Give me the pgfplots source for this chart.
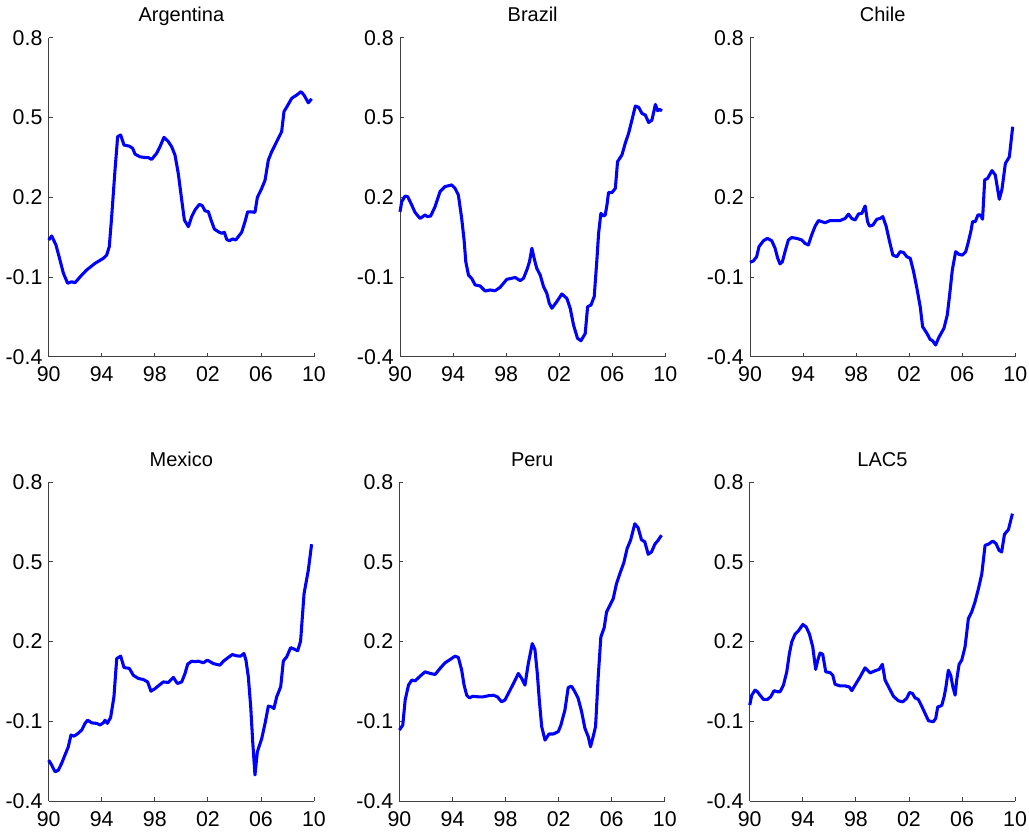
\documentclass[border=0pt]{standalone}
\usepackage{fontspec}
\setmainfont{Liberation Sans}
\usepackage{pgfplots}
\pgfplotsset{compat=1.18}
\definecolor{mblue}{RGB}{0,0,255}
\pgfplotsset{
  panel/.style={
    width=199pt, height=239.25pt, scale only axis,
    anchor=south west,
    xmin=1990, xmax=2010, ymin=-0.4, ymax=0.8,
    axis lines=left,
    axis line style={-, black!75, line width=0.6pt},
    x axis line style={-}, y axis line style={-},
    tick align=inside,
    major tick length=3pt,
    tick style={black!75, line width=0.6pt},
    xtick={1990,1994,1998,2002,2006,2010},
    xticklabels={90,94,98,02,06,10},
    ytick={-0.4,-0.1,0.2,0.5,0.8},
    yticklabels={-0.4,-0.1,0.2,0.5,0.8},
    ticklabel style={font=\fontsize{16}{18}\selectfont},
    xticklabel style={anchor=base, inner sep=0pt, yshift=-18.8pt},
    yticklabel style={anchor=east, inner sep=0pt, xshift=-4.5pt},
    every axis title shift=0pt,
    title style={at={(0.5,1)}, anchor=base, yshift=12pt, inner sep=0pt,
      font=\fontsize{15}{18}\selectfont},
    clip=false,
  },
  ser/.style={mblue, line width=2.3pt, line join=round, no marks},
}
\begin{document}
\begin{tikzpicture}
\useasboundingbox (0,0) rectangle (771.75pt,-624.75pt);
% Argentina
\begin{axis}[panel, at={(36.5pt,-267.5pt)}, title={Argentina}]
\addplot[ser] coordinates {
(1990.00,0.039)(1990.23,0.054)(1990.55,0.020)(1990.85,-0.036)(1991.11,-0.086)
(1991.43,-0.124)(1991.73,-0.118)(1991.98,-0.122)(1992.49,-0.093)(1992.86,-0.074)
(1993.49,-0.049)(1994.12,-0.030)(1994.37,-0.018)(1994.57,0.014)(1994.75,0.127)
(1995.00,0.302)(1995.20,0.428)(1995.43,0.434)(1995.68,0.396)(1996.08,0.392)
(1996.33,0.384)(1996.51,0.362)(1996.88,0.352)(1997.26,0.349)(1997.51,0.349)
(1997.76,0.342)(1998.14,0.365)(1998.39,0.390)(1998.69,0.425)(1999.02,0.409)
(1999.27,0.390)(1999.52,0.359)(1999.77,0.289)(2000.03,0.189)(2000.23,0.114)
(2000.53,0.089)(2000.78,0.127)(2001.03,0.152)(2001.36,0.173)(2001.58,0.168)
(2001.78,0.149)(2002.04,0.145)(2002.24,0.114)(2002.49,0.080)(2002.79,0.070)
(2003.04,0.064)(2003.24,0.068)(2003.42,0.041)(2003.62,0.036)(2003.87,0.043)
(2004.10,0.039)(2004.55,0.068)(2004.80,0.108)(2005.00,0.145)(2005.23,0.145)
(2005.55,0.143)(2005.73,0.199)(2006.06,0.233)(2006.31,0.264)(2006.56,0.340)
(2006.81,0.371)(2007.19,0.409)(2007.56,0.446)(2007.74,0.522)(2007.99,0.543)
(2008.32,0.572)(2008.69,0.584)(2009.02,0.597)(2009.25,0.584)(2009.57,0.555)
(2009.82,0.570)};
\end{axis}
% Brazil
\begin{axis}[panel, at={(300pt,-267.5pt)}, title={Brazil}]
\addplot[ser] coordinates {
(1990.00,0.145)(1990.13,0.183)(1990.38,0.204)(1990.58,0.202)(1990.88,0.171)
(1991.13,0.143)(1991.51,0.120)(1991.89,0.133)(1992.06,0.127)(1992.31,0.129)
(1992.64,0.164)(1993.02,0.221)(1993.40,0.240)(1993.90,0.246)(1994.15,0.233)
(1994.40,0.208)(1994.65,0.120)(1994.83,0.039)(1994.96,-0.043)(1995.16,-0.093)
(1995.41,-0.106)(1995.66,-0.130)(1996.04,-0.134)(1996.42,-0.153)(1996.79,-0.149)
(1997.17,-0.152)(1997.55,-0.139)(1998.05,-0.109)(1998.43,-0.105)(1998.68,-0.102)
(1999.06,-0.114)(1999.31,-0.105)(1999.56,-0.074)(1999.76,-0.043)(1999.94,0.008)
(2000.11,-0.030)(2000.31,-0.068)(2000.57,-0.093)(2000.82,-0.137)(2001.07,-0.162)
(2001.25,-0.199)(2001.45,-0.218)(2001.82,-0.193)(2002.20,-0.164)(2002.58,-0.181)
(2002.83,-0.218)(2003.08,-0.281)(2003.38,-0.331)(2003.64,-0.340)(2003.96,-0.313)
(2004.14,-0.212)(2004.39,-0.206)(2004.64,-0.174)(2004.84,-0.036)(2004.97,0.064)
(2005.14,0.139)(2005.35,0.129)(2005.47,0.133)(2005.60,0.171)(2005.72,0.218)
(2005.97,0.217)(2006.23,0.233)(2006.40,0.334)(2006.73,0.359)(2006.98,0.403)
(2007.23,0.440)(2007.48,0.490)(2007.74,0.543)(2007.99,0.538)(2008.24,0.515)
(2008.49,0.509)(2008.74,0.481)(2008.99,0.490)(2009.25,0.549)(2009.42,0.525)
(2009.57,0.530)(2009.75,0.525)};
\end{axis}
% Chile
\begin{axis}[panel, at={(562.5pt,-267.5pt)}, title={Chile}]
\addplot[ser] coordinates {
(1990.00,-0.045)(1990.25,-0.040)(1990.50,-0.024)(1990.68,0.014)(1991.01,0.036)
(1991.31,0.045)(1991.64,0.036)(1991.89,0.008)(1992.09,-0.030)(1992.26,-0.051)
(1992.44,-0.043)(1992.64,-0.005)(1992.89,0.039)(1993.14,0.048)(1993.52,0.045)
(1993.90,0.039)(1994.15,0.026)(1994.40,0.020)(1994.65,0.058)(1994.91,0.091)
(1995.16,0.112)(1995.41,0.108)(1995.66,0.104)(1996.04,0.112)(1996.42,0.112)
(1996.79,0.112)(1997.17,0.120)(1997.42,0.136)(1997.67,0.120)(1997.92,0.114)
(1998.18,0.137)(1998.43,0.139)(1998.68,0.167)(1998.86,0.108)(1999.01,0.091)
(1999.26,0.095)(1999.56,0.117)(1999.81,0.120)(2000.01,0.127)(2000.26,0.091)
(2000.52,0.033)(2000.77,-0.018)(2001.07,-0.024)(2001.32,-0.005)(2001.57,-0.008)
(2001.82,-0.024)(2002.08,-0.030)(2002.33,-0.080)(2002.58,-0.143)(2002.83,-0.212)
(2003.01,-0.287)(2003.33,-0.312)(2003.58,-0.335)(2003.76,-0.340)(2003.99,-0.356)
(2004.24,-0.327)(2004.62,-0.293)(2004.87,-0.243)(2005.06,-0.162)(2005.25,-0.074)
(2005.50,-0.005)(2005.75,-0.015)(2006.01,-0.018)(2006.26,-0.005)(2006.43,0.026)
(2006.64,0.070)(2006.78,0.108)(2006.98,0.108)(2007.18,0.133)(2007.36,0.133)
(2007.53,0.117)(2007.69,0.265)(2007.91,0.271)(2008.24,0.300)(2008.49,0.283)
(2008.79,0.192)(2008.99,0.229)(2009.25,0.327)(2009.55,0.352)(2009.80,0.465)};
\end{axis}
% Mexico
\begin{axis}[panel, at={(36.5pt,-600.75pt)}, title={Mexico}]
\addplot[ser] coordinates {
(1990.00,-0.246)(1990.23,-0.265)(1990.48,-0.290)(1990.73,-0.284)(1990.98,-0.258)
(1991.23,-0.227)(1991.48,-0.196)(1991.68,-0.152)(1991.91,-0.156)(1992.16,-0.148)
(1992.49,-0.133)(1992.74,-0.108)(1992.94,-0.096)(1993.24,-0.106)(1993.62,-0.108)
(1993.87,-0.114)(1994.12,-0.106)(1994.25,-0.096)(1994.42,-0.108)(1994.67,-0.086)
(1994.92,-0.008)(1995.13,0.136)(1995.43,0.145)(1995.68,0.102)(1996.08,0.099)
(1996.38,0.073)(1996.76,0.061)(1997.14,0.057)(1997.46,0.048)(1997.71,0.013)
(1998.02,0.023)(1998.34,0.036)(1998.64,0.048)(1999.02,0.046)(1999.40,0.065)
(1999.70,0.042)(2000.03,0.048)(2000.28,0.080)(2000.48,0.115)(2000.78,0.126)
(2001.03,0.124)(2001.28,0.126)(2001.66,0.120)(2001.96,0.130)(2002.41,0.117)
(2002.91,0.111)(2003.17,0.126)(2003.54,0.140)(2003.84,0.151)(2004.17,0.146)
(2004.47,0.145)(2004.72,0.155)(2004.87,0.130)(2005.05,0.067)(2005.23,-0.046)
(2005.38,-0.177)(2005.55,-0.302)(2005.73,-0.215)(2006.06,-0.165)(2006.31,-0.108)
(2006.56,-0.043)(2006.81,-0.046)(2006.98,-0.052)(2007.19,-0.008)(2007.49,0.030)
(2007.69,0.127)(2007.94,0.142)(2008.24,0.177)(2008.57,0.170)(2008.77,0.165)
(2008.99,0.202)(2009.25,0.380)(2009.57,0.468)(2009.82,0.566)};
\end{axis}
% Peru
\begin{axis}[panel, at={(299.6pt,-600.75pt)}, title={Peru}]
\addplot[ser] coordinates {
(1990.00,-0.133)(1990.25,-0.114)(1990.43,-0.020)(1990.68,0.036)(1990.93,0.055)
(1991.18,0.052)(1991.56,0.070)(1991.93,0.086)(1992.31,0.080)(1992.69,0.076)
(1993.06,0.099)(1993.44,0.120)(1993.81,0.132)(1994.19,0.145)(1994.44,0.140)
(1994.69,0.092)(1994.87,0.036)(1995.07,-0.002)(1995.27,-0.012)(1995.52,-0.006)
(1995.95,-0.008)(1996.32,-0.008)(1996.70,-0.004)(1997.08,-0.002)(1997.38,-0.008)
(1997.70,-0.027)(1997.95,-0.020)(1998.21,0.005)(1998.53,0.036)(1998.78,0.061)
(1998.96,0.080)(1999.21,0.061)(1999.46,0.036)(1999.71,0.117)(2000.01,0.192)
(2000.21,0.170)(2000.39,0.080)(2000.54,-0.020)(2000.72,-0.120)(2000.97,-0.171)
(2001.27,-0.148)(2001.59,-0.148)(2001.97,-0.139)(2002.17,-0.114)(2002.47,-0.058)
(2002.72,0.027)(2002.97,0.032)(2003.22,0.011)(2003.47,-0.014)(2003.73,-0.064)
(2003.98,-0.127)(2004.23,-0.158)(2004.40,-0.196)(2004.60,-0.158)(2004.78,-0.120)
(2004.98,0.067)(2005.18,0.217)(2005.43,0.252)(2005.61,0.311)(2005.86,0.336)
(2006.11,0.361)(2006.36,0.418)(2006.66,0.462)(2006.91,0.496)(2007.16,0.550)
(2007.42,0.581)(2007.74,0.643)(2007.99,0.628)(2008.24,0.583)(2008.49,0.575)
(2008.75,0.528)(2009.00,0.537)(2009.25,0.566)(2009.50,0.581)(2009.75,0.600)};
\end{axis}
% LAC5
\begin{axis}[panel, at={(562.3pt,-600.75pt)}, title={LAC5}]
\addplot[ser] coordinates {
(1990.00,-0.039)(1990.15,-0.002)(1990.40,0.017)(1990.58,0.011)(1990.78,-0.002)
(1991.03,-0.018)(1991.33,-0.018)(1991.58,-0.008)(1991.83,0.015)(1992.09,0.011)
(1992.29,0.011)(1992.54,0.036)(1992.79,0.086)(1992.99,0.155)(1993.17,0.199)
(1993.42,0.228)(1993.67,0.240)(1994.00,0.264)(1994.25,0.255)(1994.50,0.228)
(1994.75,0.180)(1994.97,0.095)(1995.13,0.130)(1995.30,0.157)(1995.50,0.152)
(1995.73,0.086)(1996.06,0.083)(1996.26,0.073)(1996.43,0.039)(1996.81,0.033)
(1997.19,0.033)(1997.51,0.029)(1997.69,0.015)(1997.94,0.036)(1998.32,0.067)
(1998.69,0.101)(1999.07,0.082)(1999.45,0.090)(1999.75,0.095)(2000.00,0.114)
(2000.20,0.055)(2000.53,0.023)(2000.83,-0.006)(2001.21,-0.023)(2001.53,-0.027)
(2001.83,-0.014)(2002.04,0.008)(2002.26,0.005)(2002.46,-0.012)(2002.71,-0.018)
(2002.96,-0.043)(2003.22,-0.071)(2003.47,-0.098)(2003.84,-0.102)(2004.02,-0.089)
(2004.17,-0.046)(2004.47,-0.041)(2004.65,-0.008)(2004.77,0.023)(2004.97,0.092)
(2005.15,0.073)(2005.30,0.032)(2005.48,-0.002)(2005.60,0.055)(2005.78,0.114)
(2005.98,0.130)(2006.23,0.180)(2006.48,0.286)(2006.73,0.311)(2006.98,0.349)
(2007.24,0.399)(2007.49,0.454)(2007.74,0.562)(2007.99,0.566)(2008.32,0.578)
(2008.57,0.568)(2008.79,0.543)(2008.99,0.537)(2009.20,0.603)(2009.50,0.621)
(2009.80,0.681)};
\end{axis}
\end{tikzpicture}
\end{document}
